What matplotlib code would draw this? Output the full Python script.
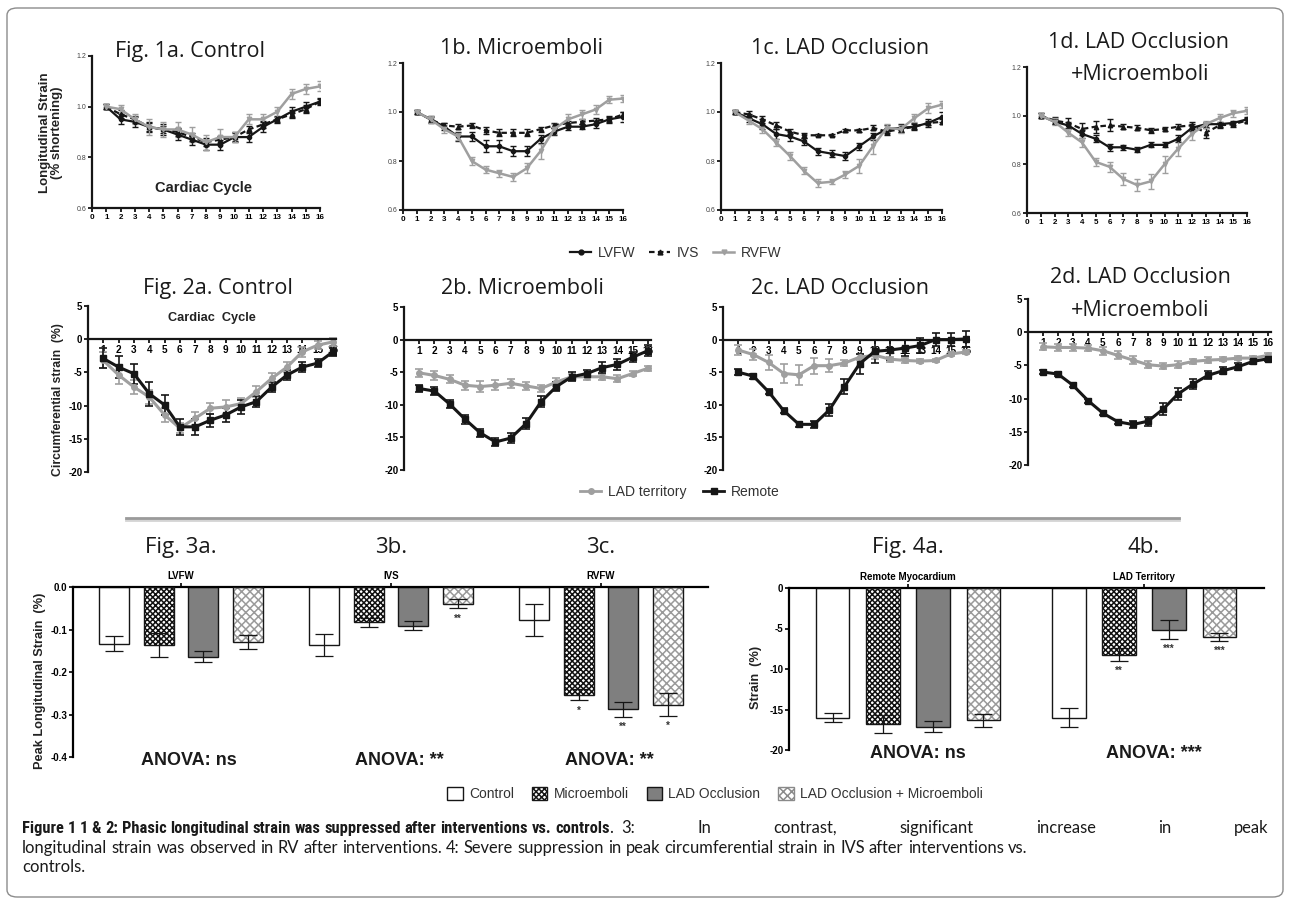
"""
Figure 1: phasic longitudinal / circumferential strain and peak strain bars
"""
import numpy as np
import matplotlib.pyplot as plt
from matplotlib.lines import Line2D
from matplotlib.patches import Patch, FancyBboxPatch
from matplotlib.ticker import FormatStrFormatter
from matplotlib.transforms import blended_transform_factory
from matplotlib.font_manager import findfont, FontProperties

plt.rcParams['axes.unicode_minus'] = False
plt.rcParams['hatch.linewidth'] = 1.1
plt.rcParams['font.family'] = ['Liberation Sans', 'DejaVu Sans']

W, H = 1290, 905
TITLE_FONT = ['Open Sans', 'DejaVu Sans']
CAP_FONT = ['Lato', 'DejaVu Sans']
BLACK = '#161616'
GREY = '#9f9f9f'


def first_installed(names, default):
    for n in names:
        try:
            findfont(FontProperties(family=n), fallback_to_default=False)
            return [n, 'DejaVu Sans']
        except ValueError:
            pass
    return default


CAP_BOLD_FONT = first_installed(['Liberation Sans Narrow', 'Roboto Condensed'], CAP_FONT)

cycle = np.arange(1, 17)

# ---- Fig 1: longitudinal strain (fraction of baseline) ----
lv_1a = [1.00, 0.95, 0.94, 0.92, 0.91, 0.89, 0.87, 0.85, 0.85, 0.88, 0.88, 0.92, 0.95, 0.98, 1.00, 1.02]
ivs_1a = [1.00, 0.97, 0.95, 0.92, 0.91, 0.90, 0.88, 0.86, 0.87, 0.88, 0.91, 0.93, 0.95, 0.97, 0.99, 1.02]
rv_1a = [1.00, 0.99, 0.95, 0.92, 0.91, 0.91, 0.89, 0.86, 0.88, 0.88, 0.95, 0.95, 0.98, 1.05, 1.07, 1.08]
lv_1a_e = [0.01, 0.02, 0.02, 0.02, 0.02, 0.02, 0.02, 0.02, 0.02, 0.02, 0.02, 0.02, 0.01, 0.02, 0.02, 0.01]
ivs_1a_e = [0.01, 0.015, 0.015, 0.015, 0.015, 0.015, 0.015, 0.015, 0.015, 0.015, 0.015, 0.015, 0.015, 0.015, 0.015, 0.015]
rv_1a_e = [0.01, 0.015, 0.02, 0.03, 0.03, 0.03, 0.03, 0.03, 0.03, 0.02, 0.02, 0.02, 0.02, 0.02, 0.02, 0.02]

lv_1b = [1.00, 0.97, 0.94, 0.90, 0.90, 0.86, 0.86, 0.84, 0.84, 0.89, 0.92, 0.94, 0.94, 0.95, 0.97, 0.98]
ivs_1b = [1.00, 0.97, 0.945, 0.94, 0.945, 0.925, 0.915, 0.915, 0.915, 0.93, 0.945, 0.955, 0.96, 0.965, 0.97, 0.99]
rv_1b = [1.00, 0.97, 0.93, 0.90, 0.80, 0.765, 0.75, 0.735, 0.77, 0.84, 0.93, 0.97, 0.99, 1.01, 1.05, 1.055]
lv_1b_e = [0.01, 0.015, 0.015, 0.02, 0.02, 0.025, 0.025, 0.02, 0.02, 0.015, 0.015, 0.015, 0.01, 0.015, 0.015, 0.02]
ivs_1b_e = [0.01, 0.01, 0.01, 0.01, 0.01, 0.015, 0.015, 0.015, 0.015, 0.01, 0.01, 0.01, 0.01, 0.01, 0.01, 0.01]
rv_1b_e = [0.01, 0.015, 0.015, 0.015, 0.015, 0.015, 0.015, 0.015, 0.02, 0.03, 0.02, 0.02, 0.02, 0.02, 0.015, 0.015]

lv_1c = [1.00, 0.975, 0.95, 0.91, 0.90, 0.88, 0.84, 0.83, 0.82, 0.86, 0.90, 0.93, 0.935, 0.94, 0.955, 0.98]
ivs_1c = [1.00, 0.99, 0.97, 0.945, 0.92, 0.905, 0.905, 0.905, 0.925, 0.925, 0.935, 0.92, 0.93, 0.94, 0.955, 0.96]
rv_1c = [1.00, 0.965, 0.93, 0.875, 0.82, 0.76, 0.71, 0.715, 0.745, 0.78, 0.86, 0.935, 0.93, 0.975, 1.015, 1.03]
lv_1c_e = [0.01, 0.015, 0.02, 0.02, 0.02, 0.015, 0.015, 0.015, 0.015, 0.015, 0.015, 0.015, 0.015, 0.015, 0.015, 0.02]
ivs_1c_e = [0.01, 0.015, 0.015, 0.015, 0.01, 0.01, 0.005, 0.005, 0.005, 0.005, 0.01, 0.015, 0.01, 0.01, 0.01, 0.01]
rv_1c_e = [0.01, 0.015, 0.015, 0.015, 0.015, 0.015, 0.015, 0.01, 0.015, 0.03, 0.03, 0.015, 0.015, 0.015, 0.02, 0.015]

lv_1d = [1.00, 0.975, 0.96, 0.925, 0.905, 0.87, 0.87, 0.86, 0.88, 0.88, 0.905, 0.95, 0.965, 0.965, 0.97, 0.985]
ivs_1d = [1.00, 0.98, 0.97, 0.945, 0.955, 0.96, 0.955, 0.95, 0.94, 0.945, 0.955, 0.96, 0.93, 0.96, 0.965, 0.98]
rv_1d = [1.00, 0.975, 0.93, 0.89, 0.81, 0.79, 0.74, 0.715, 0.73, 0.80, 0.865, 0.925, 0.965, 0.99, 1.01, 1.02]
lv_1d_e = [0.01, 0.01, 0.015, 0.015, 0.015, 0.015, 0.01, 0.01, 0.01, 0.01, 0.015, 0.015, 0.01, 0.01, 0.01, 0.01]
ivs_1d_e = [0.01, 0.015, 0.02, 0.025, 0.025, 0.025, 0.01, 0.01, 0.01, 0.01, 0.01, 0.015, 0.02, 0.01, 0.01, 0.01]
rv_1d_e = [0.01, 0.015, 0.015, 0.02, 0.015, 0.02, 0.025, 0.025, 0.03, 0.035, 0.03, 0.025, 0.015, 0.015, 0.015, 0.015]

# ---- Fig 2: circumferential strain (%) ----
lad_2a = [-3.2, -5.4, -7.2, -8.7, -11.4, -13.4, -11.9, -10.4, -10.2, -9.7, -7.9, -5.9, -4.2, -1.9, -0.9, -0.4]
rem_2a = [-2.9, -4.2, -5.2, -8.2, -9.9, -13.2, -13.2, -12.2, -11.4, -10.2, -9.4, -7.2, -5.4, -4.2, -3.6, -1.9]
lad_2a_e = [1.2, 1.3, 1.0, 1.0, 1.0, 0.8, 1.0, 0.8, 1.0, 0.8, 0.8, 0.8, 0.8, 0.8, 0.6, 0.6]
rem_2a_e = [1.5, 1.7, 1.5, 1.8, 1.5, 1.2, 1.2, 1.0, 1.0, 1.0, 0.8, 0.8, 0.8, 0.8, 0.6, 0.6]

lad_2b = [-5.1, -5.5, -6.1, -7.0, -7.2, -7.0, -6.7, -7.1, -7.5, -6.5, -5.7, -5.7, -5.7, -6.0, -5.2, -4.4]
rem_2b = [-7.5, -7.9, -9.9, -12.2, -14.3, -15.7, -15.1, -12.9, -9.5, -7.2, -5.7, -5.2, -4.3, -3.8, -2.7, -1.7]
lad_2b_e = [0.6, 0.7, 0.6, 0.7, 0.8, 0.8, 0.7, 0.6, 0.6, 0.6, 0.5, 0.5, 0.5, 0.5, 0.4, 0.4]
rem_2b_e = [0.6, 0.6, 0.6, 0.7, 0.6, 0.6, 0.7, 0.8, 0.9, 0.7, 0.7, 0.6, 0.8, 0.8, 0.8, 0.8]

lad_2c = [-1.6, -2.3, -3.5, -5.2, -5.4, -4.0, -4.0, -3.6, -2.7, -2.4, -3.0, -3.2, -3.3, -3.2, -2.2, -1.9]
rem_2c = [-5.0, -5.6, -8.0, -10.9, -13.0, -13.0, -10.8, -7.2, -3.7, -1.8, -1.6, -1.3, -0.9, 0.0, 0.0, 0.1]
lad_2c_e = [0.8, 0.8, 1.2, 1.5, 1.5, 1.2, 1.0, 0.5, 0.5, 0.5, 0.4, 0.4, 0.3, 0.3, 0.3, 0.3]
rem_2c_e = [0.5, 0.4, 0.4, 0.4, 0.4, 0.5, 0.9, 1.2, 1.5, 1.8, 1.5, 1.2, 1.2, 1.0, 1.0, 1.2]

lad_2d = [-2.2, -2.3, -2.3, -2.4, -2.8, -3.5, -4.2, -4.9, -5.1, -4.9, -4.4, -4.2, -4.1, -3.9, -3.9, -3.5]
rem_2d = [-6.0, -6.3, -8.0, -10.3, -12.2, -13.5, -13.9, -13.4, -11.6, -9.3, -7.8, -6.5, -5.8, -5.2, -4.4, -4.0]
lad_2d_e = [0.5, 0.5, 0.5, 0.5, 0.6, 0.6, 0.6, 0.5, 0.5, 0.5, 0.4, 0.4, 0.3, 0.3, 0.3, 0.3]
rem_2d_e = [0.3, 0.3, 0.3, 0.3, 0.3, 0.3, 0.5, 0.7, 0.9, 0.9, 0.7, 0.6, 0.5, 0.5, 0.4, 0.4]

# ---- Fig 3: peak longitudinal strain, groups LVFW / IVS / RVFW ----
conditions = ['Control', 'Microemboli', 'LAD Occlusion', 'LAD Occlusion + Microemboli']
fig3_groups = ['LVFW', 'IVS', 'RVFW']
fig3_means = [[-0.133, -0.136, -0.078],
              [-0.136, -0.083, -0.253],
              [-0.164, -0.091, -0.288],
              [-0.130, -0.039, -0.277]]
fig3_sems = [[0.018, 0.026, 0.038],
             [0.028, 0.011, 0.014],
             [0.013, 0.010, 0.018],
             [0.016, 0.011, 0.027]]
fig3_stars = [['', '', ''], ['', '', '*'], ['', '', '**'], ['', '**', '*']]
fig3_anova = ['ANOVA: ns', 'ANOVA: **', 'ANOVA: **']
fig3_titles = ['Fig. 3a.', '3b.', '3c.']

# ---- Fig 4: peak circumferential strain ----
fig4_groups = ['Remote Myocardium', 'LAD Territory']
fig4_means = [[-16.0, -16.0],
              [-16.8, -8.25],
              [-17.1, -5.15],
              [-16.3, -6.0]]
fig4_sems = [[0.6, 1.2], [1.1, 0.8], [0.7, 1.2], [0.8, 0.5]]
fig4_stars = [['', ''], ['', '**'], ['', '***'], ['', '***']]
fig4_anova = ['ANOVA: ns', 'ANOVA: ***']
fig4_titles = ['Fig. 4a.', '4b.']

caption_bold = 'Figure 1 1 & 2: Phasic longitudinal strain was suppressed after interventions vs. controls'
caption_line1_rest = '3: In contrast, significant increase in peak'
caption_line2 = ('longitudinal strain was observed in RV after interventions. 4: Severe suppression in peak '
                 'circumferential strain in IVS after interventions vs.')
caption_line3 = 'controls.'

fig = plt.figure(figsize=(W / 100, H / 100), dpi=100)


def px_axes(x0, x1, y_top, y_bot):
    return fig.add_axes([x0 / W, 1 - y_bot / H, (x1 - x0) / W, (y_bot - y_top) / H])


def ftext(x, y, s, **kw):
    return fig.text(x / W, 1 - y / H, s, **kw)


def style_spines(ax, lw=1.6):
    for s in ['top', 'right']:
        ax.spines[s].set_visible(False)
    for s in ['left', 'bottom']:
        ax.spines[s].set_linewidth(lw)
        ax.spines[s].set_color(BLACK)


# ---------- Row 1 ----------
def long_panel(box, lv, lv_e, ivs, ivs_e, rv, rv_e):
    ax = px_axes(*box)
    eb = dict(capsize=2.0, elinewidth=1.0, capthick=1.0)
    ax.errorbar(cycle, ivs, yerr=ivs_e, color=BLACK, ls=(0, (2.5, 1.5)), lw=1.6,
                marker='^', ms=3.2, **eb)
    ax.errorbar(cycle, lv, yerr=lv_e, color=BLACK, lw=1.6, marker='o', ms=3.0, **eb)
    ax.errorbar(cycle, rv, yerr=rv_e, color=GREY, lw=1.8, marker='v', ms=3.2, **eb)
    ax.set_xlim(0, 16)
    ax.set_ylim(0.6, 1.2)
    ax.set_xticks(range(17))
    ax.set_yticks([0.6, 0.8, 1.0, 1.2])
    ax.yaxis.set_major_formatter(FormatStrFormatter('%.1f'))
    ax.tick_params(axis='x', labelsize=5.8, length=3, width=1.2, pad=1.5)
    ax.tick_params(axis='y', labelsize=5, length=3, width=1.2, pad=1, labelcolor='#444444')
    for lab in ax.get_xticklabels():
        lab.set_fontweight('bold')
    style_spines(ax)
    return ax


ax1a = long_panel((92, 320, 56, 208), lv_1a, lv_1a_e, ivs_1a, ivs_1a_e, rv_1a, rv_1a_e)
ax1a.text(0.49, 0.13, 'Cardiac Cycle', transform=ax1a.transAxes, ha='center', va='center',
          fontsize=10.5, fontweight='bold', color='#222222')
ftext(51, 133, 'Longitudinal Strain\n(% shortening)', rotation=90, ha='center', va='center',
      fontsize=9.5, fontweight='bold', color='#222222', linespacing=1.1)
long_panel((403, 623, 63, 210), lv_1b, lv_1b_e, ivs_1b, ivs_1b_e, rv_1b, rv_1b_e)
long_panel((721, 942, 63, 210), lv_1c, lv_1c_e, ivs_1c, ivs_1c_e, rv_1c, rv_1c_e)
long_panel((1027, 1247, 67, 213), lv_1d, lv_1d_e, ivs_1d, ivs_1d_e, rv_1d, rv_1d_e)

title_kw = dict(ha='center', va='center', fontsize=15.5, family=TITLE_FONT, color='#1a1a1a')
ftext(190, 52, 'Fig. 1a. Control', **title_kw)
ftext(522, 48, '1b. Microemboli', **title_kw)
ftext(840, 48, '1c. LAD Occlusion', **title_kw)
ftext(1138, 42, '1d. LAD Occlusion', **title_kw)
ftext(1140, 75, '+Microemboli', **title_kw)

row1_handles = [
    Line2D([], [], color=BLACK, lw=1.6, marker='o', ms=3.5),
    Line2D([], [], color=BLACK, lw=1.6, ls=(0, (2.5, 1.5)), marker='^', ms=3.5),
    Line2D([], [], color=GREY, lw=1.8, marker='v', ms=3.5),
]
fig.legend(row1_handles, ['LVFW', 'IVS', 'RVFW'], loc='center', bbox_to_anchor=(676 / W, 1 - 253 / H),
           ncol=3, frameon=False, fontsize=10, handlelength=1.5, columnspacing=1.0,
           handletextpad=0.5, labelcolor='#333333')


# ---------- Row 2 ----------
def circ_panel(box, lad, lad_e, rem, rem_e):
    ax = px_axes(*box)
    eb = dict(capsize=3.0, elinewidth=1.2, capthick=1.2)
    ax.errorbar(cycle, lad, yerr=lad_e, color=GREY, lw=2.2, marker='o', ms=4, **eb)
    ax.errorbar(cycle, rem, yerr=rem_e, color=BLACK, lw=2.2, marker='s', ms=4.5, **eb)
    ax.set_xlim(0, 16.2)
    ax.set_ylim(-20, 5)
    ax.spines['bottom'].set_position(('data', 0))
    ax.set_xticks(range(1, 17))
    ax.set_yticks([5, 0, -5, -10, -15, -20])
    ax.tick_params(axis='x', labelsize=7.2, length=3, width=1.2, pad=1.5)
    ax.tick_params(axis='y', labelsize=7, length=3, width=1.2, pad=1)
    for lab in ax.get_xticklabels() + ax.get_yticklabels():
        lab.set_fontweight('bold')
    style_spines(ax)
    return ax


ax2a = circ_panel((88, 336, 306, 472), lad_2a, lad_2a_e, rem_2a, rem_2a_e)
ax2a.text(0.5, 0.93, 'Cardiac  Cycle', transform=ax2a.transAxes, ha='center', va='center',
          fontsize=9.2, fontweight='bold', color='#222222')
ftext(58, 400, 'Circumferential strain  (%)', rotation=90, ha='center', va='center',
      fontsize=8.8, fontweight='bold', color='#222222')
circ_panel((404, 651, 307, 470), lad_2b, lad_2b_e, rem_2b, rem_2b_e)
circ_panel((723, 969, 307, 470), lad_2c, lad_2c_e, rem_2c, rem_2c_e)
circ_panel((1028, 1271, 299, 465), lad_2d, lad_2d_e, rem_2d, rem_2d_e)

ftext(218, 288, 'Fig. 2a. Control', **title_kw)
ftext(522, 288, '2b. Microemboli', **title_kw)
ftext(840, 288, '2c. LAD Occlusion', **title_kw)
ftext(1140, 277, '2d. LAD Occlusion', **title_kw)
ftext(1140, 310, '+Microemboli', **title_kw)

row2_handles = [
    Line2D([], [], color=GREY, lw=2.0, marker='o', ms=4),
    Line2D([], [], color=BLACK, lw=2.0, marker='s', ms=4),
]
fig.legend(row2_handles, ['LAD territory', 'Remote'], loc='center', bbox_to_anchor=(680 / W, 1 - 492 / H),
           ncol=2, frameon=False, fontsize=10, handlelength=1.5, columnspacing=1.2,
           handletextpad=0.5, labelcolor='#333333')

# separator line with a soft shadow
fig.add_artist(Line2D([126 / W, 1179 / W], [1 - 520 / H, 1 - 520 / H], color='#d4d4d4', lw=2.0))
fig.add_artist(Line2D([126 / W, 1179 / W], [1 - 518 / H, 1 - 518 / H], color='#9a9a9a', lw=2.0))

# ---------- Row 3: bars ----------
STEP = 0.213
BW = 0.143
BAR_FACE = ['white', 'white', '#7f7f7f', 'white']
HATCH = [None, 'xxxxxx', None, 'xxxx']
HATCH_COL = [None, '#111111', None, '#9a9a9a']


def bar_panel(box, groups, means, sems, stars, xlim, ylim, yticks, fmt, ylabel, titles, anova,
              title_y, ylabel_x):
    ax = px_axes(*box)
    xg = np.arange(len(groups))
    for j in range(4):
        xs = xg + (j - 1.5) * STEP
        if HATCH[j]:
            ax.bar(xs, means[j], width=BW, color='white', edgecolor=HATCH_COL[j], hatch=HATCH[j],
                   lw=0, zorder=2)
            ax.bar(xs, means[j], width=BW, fill=False, edgecolor=BLACK, lw=1.0, zorder=3)
        else:
            ax.bar(xs, means[j], width=BW, color=BAR_FACE[j], edgecolor=BLACK, lw=1.0, zorder=2)
        ax.errorbar(xs, means[j], yerr=sems[j], fmt='none', ecolor=BLACK, elinewidth=0.9,
                    capsize=6.5, capthick=0.9, zorder=4)
        span = ylim[1] - ylim[0]
        for k, s in enumerate(stars[j]):
            if s:
                ax.text(xs[k], means[j][k] - sems[j][k] - 0.03 * span, s, ha='center', va='top',
                        fontsize=7, fontweight='bold', color='#333333')
    ax.set_xlim(*xlim)
    ax.set_ylim(*ylim)
    ax.xaxis.tick_top()
    ax.set_xticks(xg)
    ax.set_xticklabels(groups, fontsize=7, fontweight='bold')
    ax.set_yticks(yticks)
    ax.yaxis.set_major_formatter(FormatStrFormatter(fmt))
    ax.tick_params(axis='x', length=3, width=1.2, pad=1.5)
    ax.tick_params(axis='y', labelsize=7, length=3, width=1.2, pad=1)
    for lab in ax.get_yticklabels():
        lab.set_fontweight('bold')
    ax.spines['bottom'].set_visible(False)
    ax.spines['right'].set_visible(False)
    ax.spines['top'].set_linewidth(1.6)
    ax.spines['left'].set_linewidth(1.6)
    tr = blended_transform_factory(ax.transData, ax.transAxes)
    for k in range(len(groups)):
        ax.text(xg[k], title_y, titles[k], transform=tr, ha='center', va='center', fontsize=16,
                family=TITLE_FONT, color='#1a1a1a')
        ax.text(xg[k] + 0.04, -0.02, anova[k], transform=tr, ha='center', va='center', fontsize=13,
                fontweight='bold', color='#1a1a1a')
    ax.text(ylabel_x, 0.45, ylabel, transform=ax.transAxes, rotation=90, ha='center', va='center',
            fontsize=9.2, fontweight='bold', color='#222222')
    return ax


bar_panel((73, 708, 587, 757), fig3_groups, fig3_means, fig3_sems, fig3_stars,
          (-0.514, 2.51), (-0.4, 0.0), [0.0, -0.1, -0.2, -0.3, -0.4], '%.1f',
          'Peak Longitudinal Strain  (%)', fig3_titles, fig3_anova, 1.235, -0.052)
bar_panel((789, 1264, 588, 750), fig4_groups, fig4_means, fig4_sems, fig4_stars,
          (-0.504, 1.508), (-20, 0), [0, -5, -10, -15, -20], '%d',
          'Strain  (%)', fig4_titles, fig4_anova, 1.25, -0.07)

bar_handles = [
    Patch(facecolor='white', edgecolor=BLACK, lw=1.0),
    Patch(facecolor='white', edgecolor=BLACK, hatch='xxxxxx', lw=1.0),
    Patch(facecolor='#7f7f7f', edgecolor=BLACK, lw=1.0),
    Patch(facecolor='white', edgecolor='#8a8a8a', hatch='xxxx', lw=1.0),
]
fig.legend(bar_handles, conditions, loc='center', bbox_to_anchor=(715 / W, 1 - 794 / H), ncol=4,
           frameon=False, fontsize=10, handlelength=1.1, handleheight=1.1, columnspacing=1.3,
           handletextpad=0.45, labelcolor='#333333')

# ---------- caption ----------
renderer = fig.canvas.get_renderer()
CAP_SIZE = 11.9


def text_width(s, size, weight, family):
    t = ftext(0, 0, s, fontsize=size, fontweight=weight, family=family)
    w = t.get_window_extent(renderer).width
    t.remove()
    return w


def place_words(words, x0, y, size, weight, family, x1=None):
    arts = []
    total = 0.0
    for w in words:
        t = ftext(x0, y, w, fontsize=size, fontweight=weight, family=family, va='baseline',
                  ha='left', color='#1a1a1a')
        wdt = t.get_window_extent(renderer).width
        arts.append((t, wdt))
        total += wdt
    space = text_width('a a', size, weight, family) - text_width('aa', size, weight, family)
    gap = space if x1 is None else (x1 - x0 - total) / max(len(arts) - 1, 1)
    x = x0
    for t, wdt in arts:
        t.set_x(x / W)
        x += wdt + gap
    return x - gap


# bold run fitted to end near x=648 as in the reference
bold_words = caption_bold.split(' ')
nat = sum(text_width(w, CAP_SIZE, 'bold', CAP_BOLD_FONT) for w in bold_words) + \
    (len(bold_words) - 1) * (text_width('a a', CAP_SIZE, 'bold', CAP_BOLD_FONT) -
                             text_width('aa', CAP_SIZE, 'bold', CAP_BOLD_FONT))
bold_size = CAP_SIZE * min(1.0, 640 / nat)
x_end = place_words(bold_words, 22, 833, bold_size, 'bold', CAP_BOLD_FONT)
x_end = place_words(['.'], x_end, 833, CAP_SIZE, 'normal', CAP_FONT)
place_words(caption_line1_rest.split(' '), x_end + 8, 833, CAP_SIZE, 'normal', CAP_FONT, x1=1268)
place_words(caption_line2.split(' '), 22, 853, CAP_SIZE, 'normal', CAP_FONT)
place_words([caption_line3], 22, 872, CAP_SIZE, 'normal', CAP_FONT)

# rounded frame round the whole figure
fig.add_artist(FancyBboxPatch((7 / W, 8 / H), 1276 / W, 889 / H, transform=fig.transFigure,
                              boxstyle='round,pad=0,rounding_size=0.008', fill=False,
                              edgecolor='#8c8c8c', lw=1.0))

plt.savefig('out.png', dpi=100)
print("Saved: out.png")
